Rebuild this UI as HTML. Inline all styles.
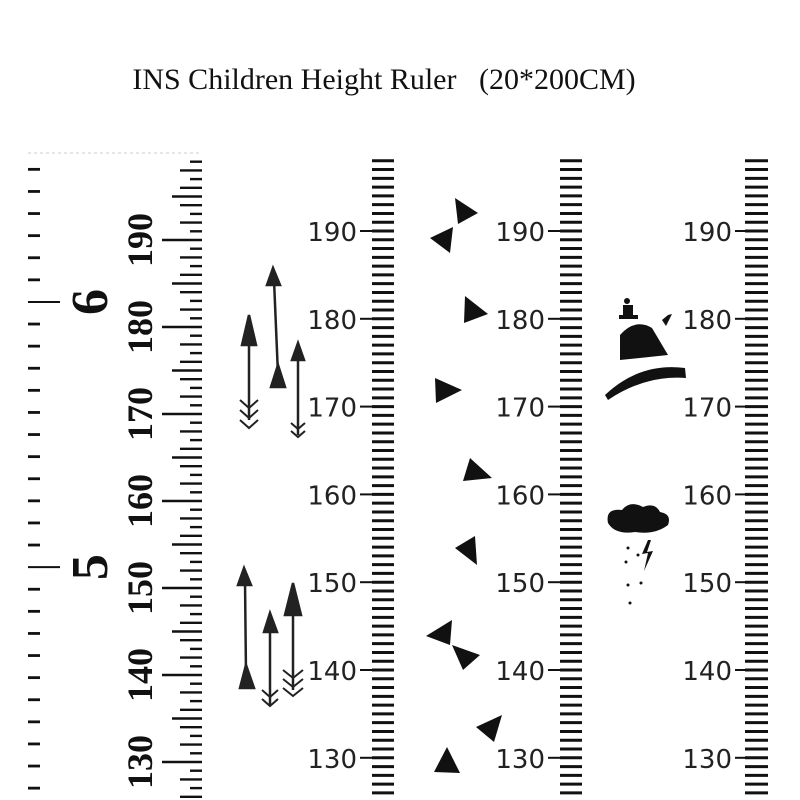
<!DOCTYPE html>
<html><head><meta charset="utf-8"><style>
html,body{margin:0;padding:0;background:#fff;width:800px;height:800px;overflow:hidden}
svg{display:block}
</style></head><body>
<svg id="s" width="800" height="800" viewBox="0 0 800 800" xmlns="http://www.w3.org/2000/svg">
<text x="384" y="89" text-anchor="middle" font-family="Liberation Serif, serif" font-size="30" fill="#111">INS Children Height Ruler &#160;&#160;(20*200CM)</text>
<g id="g"></g>
<g stroke="#222" stroke-width="2.5" fill="#222">
<line x1="249" y1="330" x2="249" y2="420"/><polygon points="249,315 242,345 256,345"/>
<path d="M240,400 l9,8 l9,-8 M240,410 l9,8 l9,-8 M240,420 l9,8 l9,-8" fill="none" stroke-width="2"/>
<line x1="274" y1="280" x2="278" y2="375"/><polygon points="273,268 267,285 280,285"/><polygon points="278,365 271,387 285,387"/>
<line x1="298" y1="355" x2="298" y2="435"/><polygon points="298,343 292,360 304,360"/>
<path d="M291,423 l7,6 l7,-6 M291,431 l7,6 l7,-6" fill="none" stroke-width="2"/>
<line x1="245" y1="580" x2="246" y2="675"/><polygon points="244,568 238,585 251,585"/><polygon points="246,665 240,688 254,688"/>
<line x1="270" y1="625" x2="270" y2="705"/><polygon points="270,613 264,632 277,632"/>
<path d="M262,690 l8,7 l8,-7 M262,699 l8,7 l8,-7" fill="none" stroke-width="2"/>
<line x1="293" y1="600" x2="293" y2="690"/><polygon points="293,583 285,615 301,615"/>
<path d="M283,670 l10,8 l10,-8 M283,679 l10,8 l10,-8 M283,688 l10,8 l10,-8" fill="none" stroke-width="2"/>
</g>
<g fill="#111">
<polygon points="455,198 478,213 458,224"/><polygon points="430,238 453,227 450,253"/>
<polygon points="465,296 488,314 464,323"/>
<polygon points="435,378 462,390 436,403"/>
<polygon points="470,458 492,478 463,481"/>
<polygon points="455,548 475,536 477,565"/>
<polygon points="426,636 452,620 450,645"/><polygon points="452,645 480,655 463,670"/>
<polygon points="476,727 502,715 494,742"/>
<polygon points="434,772 447,747 460,773"/>
</g>
<g fill="#111">
<circle cx="627" cy="301" r="3"/>
<rect x="623" y="305" width="10" height="10"/>
<rect x="619" y="315" width="19" height="4"/>
<path d="M620,360 L620,335 Q635,318 652,328 L668,355 Z"/>
<path d="M605,395 Q640,362 685,368 L686,378 Q645,375 608,400 Z"/>
<path d="M662,320 l4,6 l6,-12 l-4,1 z"/>
</g>
<g fill="#111">
<path d="M608,523 Q605,508 622,510 Q630,500 643,507 Q655,502 660,512 Q672,514 668,525 Q655,535 635,532 Q615,535 608,523 Z"/>
<path d="M648,540 l-6,14 l6,-1 l-4,18 l9,-20 l-6,1 l4,-12 z"/>
<circle cx="628" cy="548" r="1.5"/><circle cx="626" cy="562" r="1.5"/><circle cx="638" cy="555" r="1.5"/><circle cx="628" cy="585" r="1.5"/><circle cx="641" cy="583" r="1.5"/><circle cx="630" cy="603" r="1.5"/>
</g>
</svg>
<script>
var g=document.getElementById('g'),h='';
function L(x1,y1,x2,y2,w){h+='<line x1="'+x1+'" y1="'+y1+'" x2="'+x2+'" y2="'+y2+'" stroke="#111" stroke-width="'+(w||2.2)+'"/>';}
function T(x,y,t,extra){h+='<text x="'+x+'" y="'+y+'" '+extra+'>'+t+'</text>';}
function yl(c){return 240+(190-c)*8.7;}
for(var c=120;c<=199;c++){var y=yl(c);if(y<158||y>800)continue;
 var len=c%10==0?40:(c%5==0?30:(c%2==0?22:12));L(202-len,y,202,y,2.4);}
for(var c=130;c<=190;c+=10){var y=yl(c);
 T(152,y,c,'transform="rotate(-90 152 '+y+')" text-anchor="middle" font-family="Liberation Serif, serif" font-weight="bold" font-size="36" fill="#111"');}
var y6=yl(182.88);
for(var i=-6;i<=30;i++){var y=y6+i*22.1;if(y<160||y>800)continue;
 if(i%12==0){L(28,y,60,y,2);}else L(28,y,40,y,2.8);}
[[6,y6],[5,y6+12*22.1]].forEach(function(a){
 T(107,a[1],a[0],'transform="rotate(-90 107 '+a[1]+')" text-anchor="middle" font-family="Liberation Serif, serif" font-weight="bold" font-size="52" fill="#111"');});
h+='<line x1="28" y1="153" x2="200" y2="153" stroke="#ddd" stroke-width="1.5" stroke-dasharray="3,3"/>';
function yr(c){return 231+(190-c)*8.78;}
[[372,394,357],[560,582,545],[745,768,732]].forEach(function(r){
 for(var c=120;c<=199;c++){var y=yr(c);if(y<153||y>800)continue;L(r[0],y,r[1],y,3);}
 for(var c=130;c<=190;c+=10){var y=yr(c);L(r[2]+3,y,r[0],y,2);
  T(r[2],y+10,c,'text-anchor="end" font-family="DejaVu Sans, sans-serif" font-size="26" fill="#222"');}
});
g.innerHTML=h;
</script>
</body></html>
